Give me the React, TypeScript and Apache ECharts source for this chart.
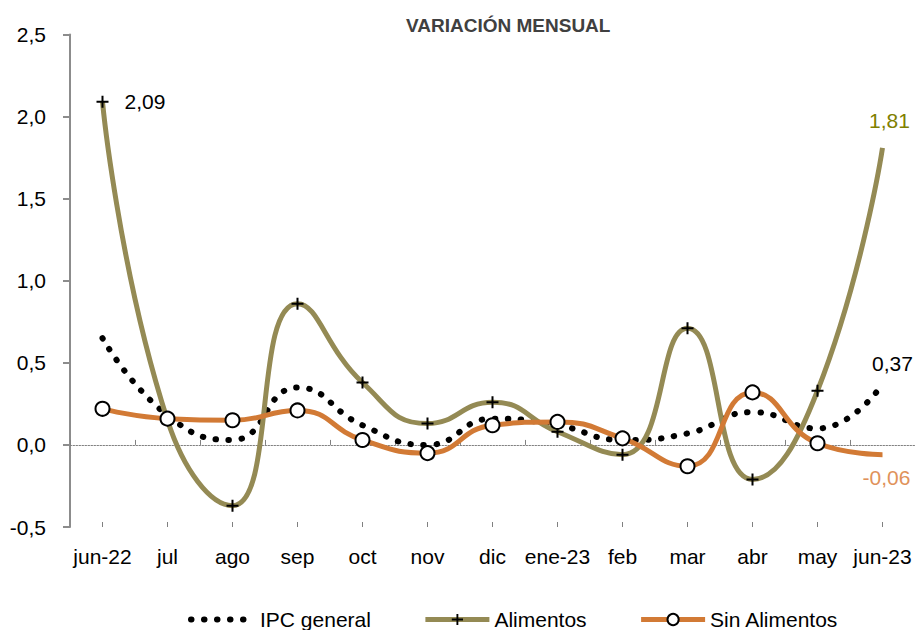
import React, { useEffect, useRef } from "react";
import * as echarts from "echarts";

const categories = ["jun-22", "jul", "ago", "sep", "oct", "nov", "dic", "ene-23", "feb", "mar", "abr", "may", "jun-23"];
const ipcGeneral = [0.65, 0.18, 0.03, 0.35, 0.12, 0.0, 0.16, 0.12, 0.03, 0.07, 0.2, 0.1, 0.37];
const alimentos = [2.09, 0.15, -0.37, 0.86, 0.38, 0.13, 0.26, 0.08, -0.06, 0.71, -0.21, 0.33, 1.81];
const sinAlimentos = [0.22, 0.16, 0.15, 0.21, 0.03, -0.05, 0.12, 0.14, 0.04, -0.13, 0.32, 0.01, -0.06];
const seriesNames = ["IPC general", "Alimentos", "Sin Alimentos"];
const titleText = "VARIACIÓN MENSUAL";
const yMin = -0.5;
const yMax = 2.5;
const yStep = 0.5;

const FONT = "'Liberation Sans', Arial, sans-serif";
const OLIVE = "#948A54";
const ORANGE = "#D27A35";
const PLUS = "path://M5,0h2v5h5v2h-5v5h-2v-5h-5v-2h5z";
const FS = 21;
const DOT_DASH = [0.5, 12.5];

const fmt = (v: number) => v.toFixed(2).replace(".", ",");

export default function App() {
  const ref = useRef<HTMLDivElement>(null);
  useEffect(() => {
    if (!ref.current) return;
    const chart = echarts.init(ref.current, null, { renderer: "svg" });
    const last = categories.length - 1;
    const hiddenEnd = { symbolSize: 2, itemStyle: { color: "transparent", borderColor: "transparent" } };

    const ipcData = ipcGeneral.map((v, i) =>
      i === last
        ? { value: v, label: { show: true, position: "top", distance: 9, offset: [10, 0], color: "#000", fontSize: FS, fontFamily: FONT, formatter: () => fmt(v) } }
        : v
    );
    const aliData = alimentos.map((v, i) => {
      if (i === 0)
        return { value: v, label: { show: true, position: "right", distance: 16, color: "#000", fontSize: FS, fontFamily: FONT, formatter: () => fmt(v) } };
      if (i === last)
        return { value: v, ...hiddenEnd, label: { show: true, position: "top", distance: 15, offset: [7, 0], color: "#808000", fontSize: FS, fontFamily: FONT, formatter: () => fmt(v) } };
      return v;
    });
    const sinData = sinAlimentos.map((v, i) =>
      i === last
        ? { value: v, ...hiddenEnd, label: { show: true, position: "bottom", distance: 10, offset: [4, 0], color: "#E0925A", fontSize: FS, fontFamily: FONT, formatter: () => fmt(v) } }
        : v
    );

    chart.setOption({
      animation: false,
      textStyle: { fontFamily: FONT },
      title: {
        text: titleText,
        left: 401,
        top: 11,
        textStyle: { fontSize: 19, fontWeight: "bold", color: "#404040", fontFamily: FONT },
      },
      legend: {
        left: 183,
        top: 604,
        itemWidth: 64,
        itemHeight: 14,
        itemGap: 52,
        textStyle: { fontSize: FS, color: "#000", fontFamily: FONT },
        data: [
          { name: seriesNames[0], lineStyle: { width: 6, type: DOT_DASH, cap: "round", color: "#000" } },
          { name: seriesNames[1], lineStyle: { width: 5, color: OLIVE } },
          { name: seriesNames[2], lineStyle: { width: 5, color: ORANGE } },
        ],
      },
      grid: { left: 70, right: 0, top: 34.5, bottom: 103, containLabel: false },
      xAxis: [
        {
          type: "category",
          data: categories,
          position: "bottom",
          axisLine: { show: false, onZero: false },
          axisTick: { show: false },
          axisLabel: { fontSize: FS, color: "#000", margin: 19, interval: 0, fontFamily: FONT },
        },
        {
          type: "category",
          data: categories,
          position: "bottom",
          axisLine: { show: true, onZero: true, lineStyle: { color: "#808080", width: 1, type: [1.5, 1.5] } },
          axisTick: { show: true, inside: true, length: 5, interval: 0, lineStyle: { color: "#808080", width: 1 } },
          axisLabel: { show: false },
        },
        {
          type: "category",
          data: categories,
          position: "bottom",
          axisLine: { show: false, onZero: true },
          axisTick: { show: true, inside: true, length: 5, interval: 0, alignWithLabel: true, lineStyle: { color: "#808080", width: 1 } },
          axisLabel: { show: false },
        },
      ],
      yAxis: {
        type: "value",
        min: yMin,
        max: yMax,
        interval: yStep,
        splitLine: { show: false },
        axisLine: { show: true, lineStyle: { color: "#8C8C8C", width: 2 } },
        axisTick: { show: true, length: 7, lineStyle: { color: "#8C8C8C", width: 2 } },
        axisLabel: {
          fontSize: FS,
          color: "#000",
          margin: 24,
          fontFamily: FONT,
          formatter: (v: number) => v.toFixed(1).replace(".", ","),
        },
      },
      series: [
        {
          name: seriesNames[0],
          type: "line",
          data: ipcData,
          smooth: true,
          symbol: "circle",
          symbolSize: 2,
          itemStyle: { color: "transparent", borderColor: "transparent" },
          lineStyle: { color: "#000", width: 6, type: DOT_DASH, cap: "round" },
          z: 2,
        },
        {
          name: seriesNames[1],
          type: "line",
          data: aliData,
          smooth: true,
          symbol: PLUS,
          symbolSize: 12,
          itemStyle: { color: "#000" },
          lineStyle: { color: OLIVE, width: 5 },
          z: 3,
        },
        {
          name: seriesNames[2],
          type: "line",
          data: sinData,
          smooth: true,
          symbol: "circle",
          symbolSize: 14,
          itemStyle: { color: "#fff", borderColor: "#000", borderWidth: 2 },
          lineStyle: { color: ORANGE, width: 5 },
          z: 4,
        },
      ],
    });
    return () => chart.dispose();
  }, []);
  return <div ref={ref} style={{ width: 915, height: 630, position: "absolute", left: 0, top: 0 }} />;
}
